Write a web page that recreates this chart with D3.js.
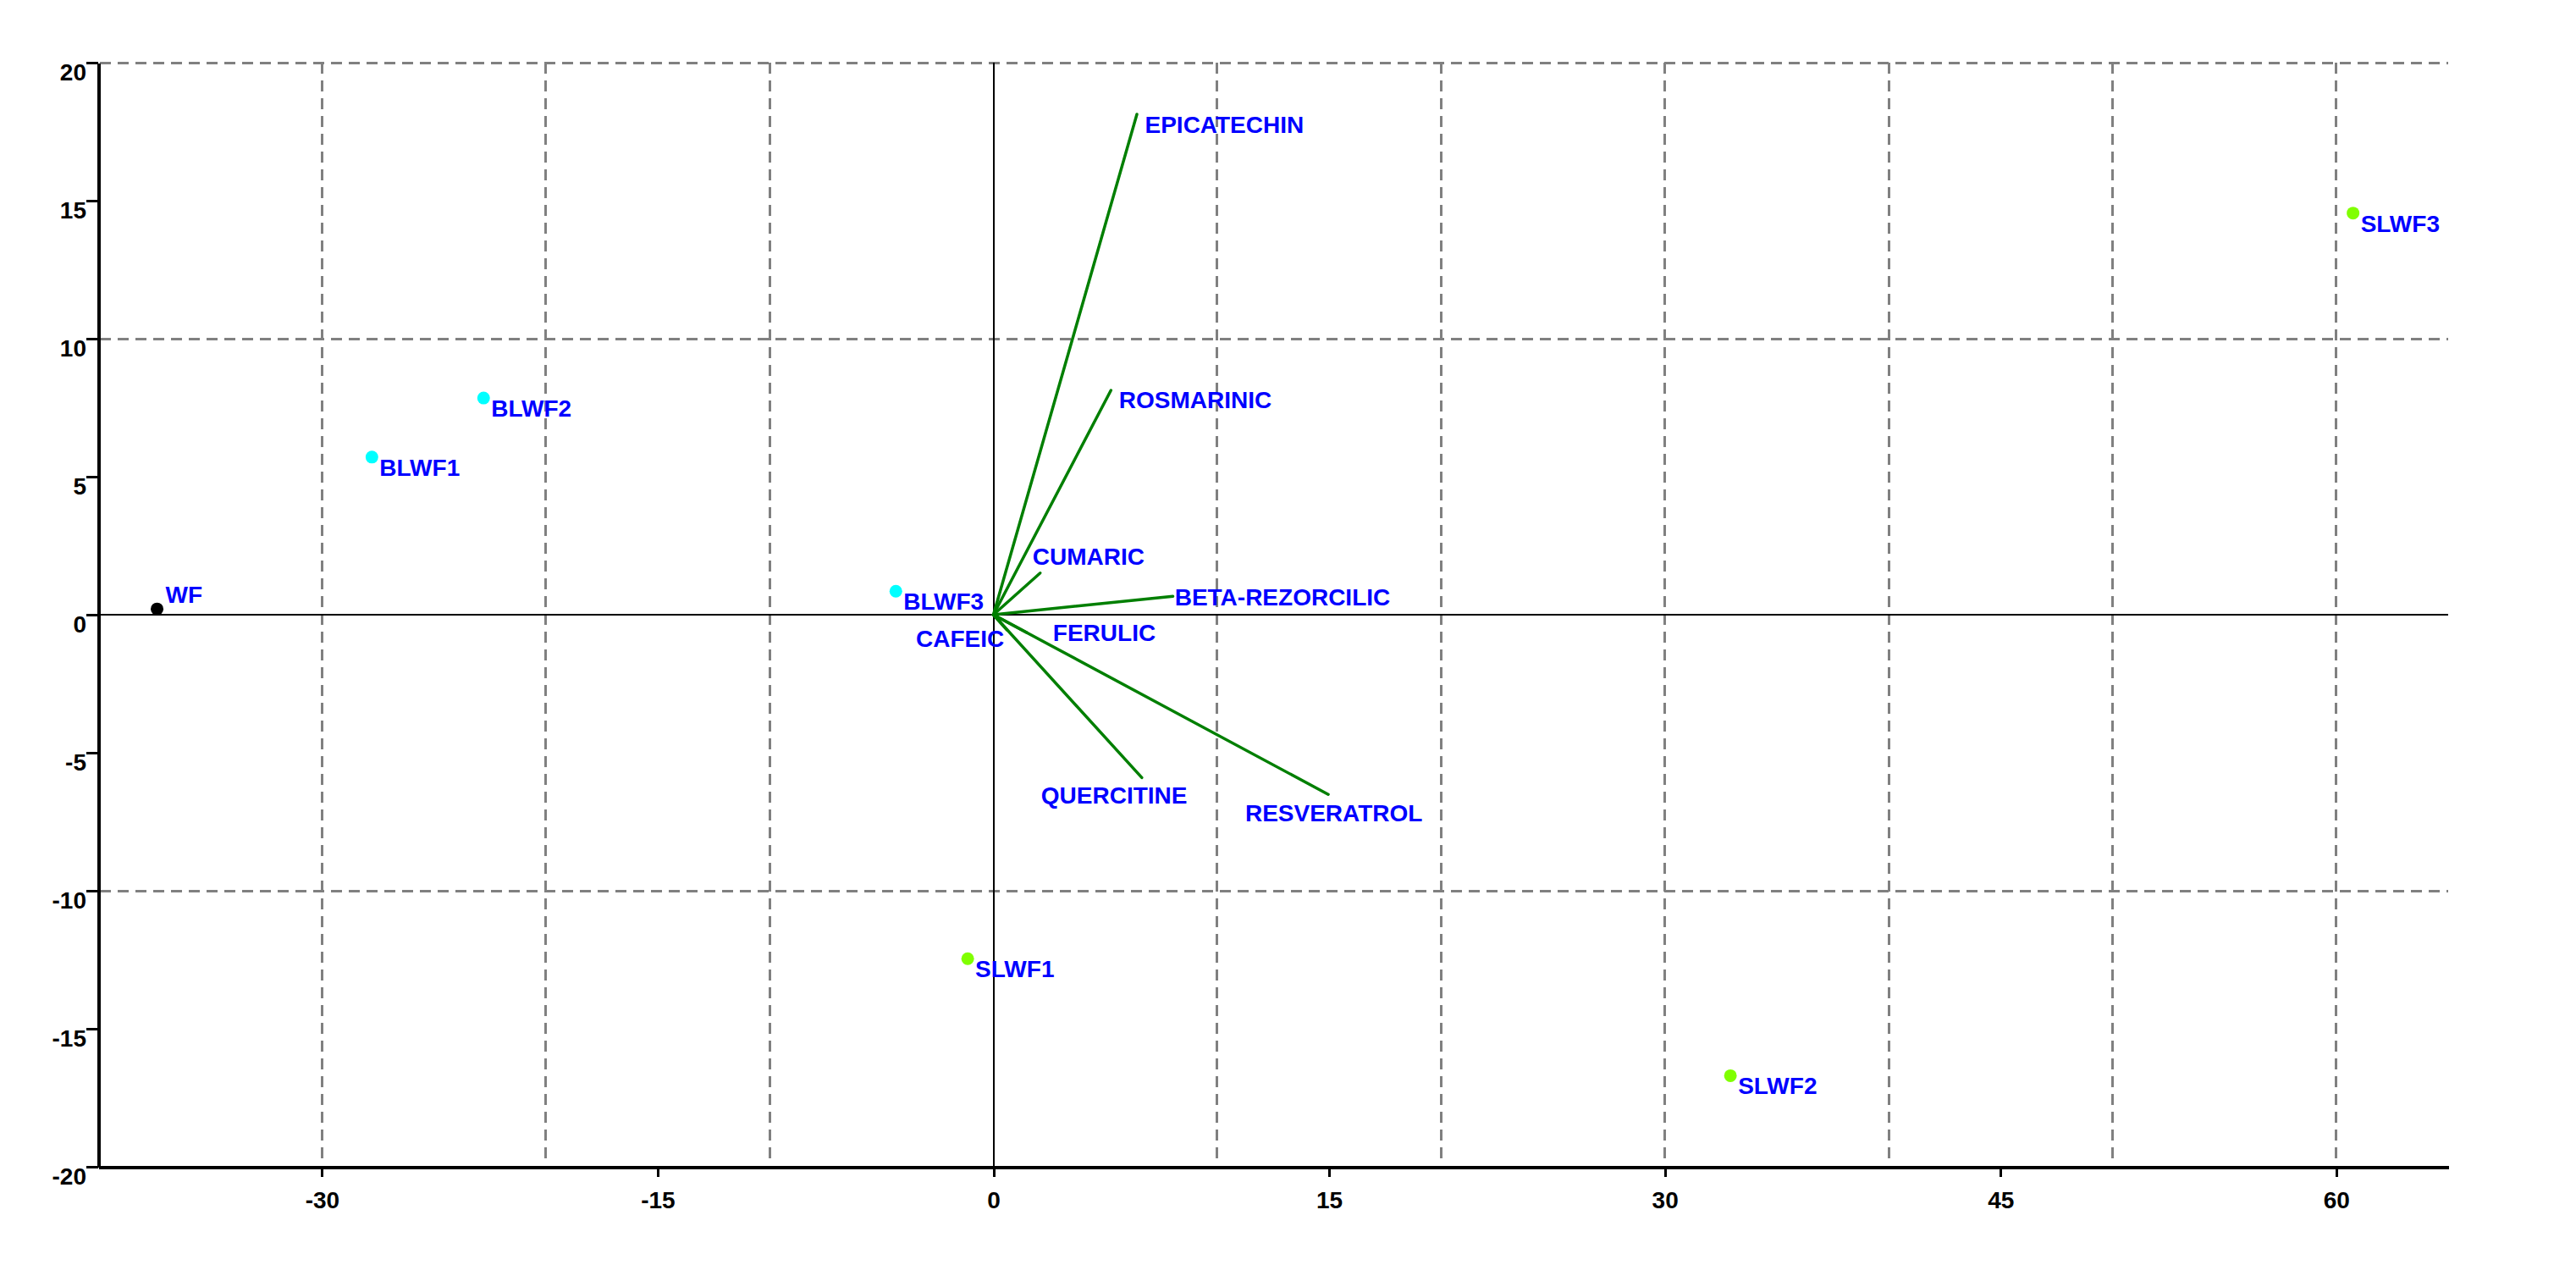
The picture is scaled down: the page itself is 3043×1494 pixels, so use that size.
<!DOCTYPE html>
<html>
<head>
<meta charset="utf-8">
<script src="https://cdn.jsdelivr.net/npm/d3@7"></script>
<style>
  html, body { margin: 0; padding: 0; background: #fff; }
  svg { display: block; }
  text { font-family: "Liberation Sans", Arial, sans-serif; font-weight: bold; }
</style>
</head>
<body>
<script>
// ---- Data ----
const sampleNames = ["WF", "BLWF1", "BLWF2", "BLWF3", "SLWF1", "SLWF2", "SLWF3"];
const sampleX = [-37.37, -27.77, -22.78, -4.36, -1.15, 32.93, 60.75];
const sampleY = [0.21, 5.71, 7.85, 0.85, -12.46, -16.70, 14.55];
const sampleGroup = ["WF", "BLWF", "BLWF", "BLWF", "SLWF", "SLWF", "SLWF"];
const sampleLabelSide = ["above", "below", "below", "below", "below", "below", "below"];

const vectorNames = ["EPICATECHIN", "ROSMARINIC", "CUMARIC", "BETA-REZORCILIC", "FERULIC", "CAFEIC", "QUERCITINE", "RESVERATROL"];
const vectorX = [6.41, 5.25, 2.09, 8.02, 1.5, 0.6, 6.63, 14.96];
const vectorY = [18.13, 8.13, 1.51, 0.67, -0.65, -0.55, -5.90, -6.51];
// label anchor (top-left of text) in data units
const vectorLabelX = [6.77, 5.61, 1.75, 8.10, 2.66, -3.46, 2.13, 11.25];
const vectorLabelY = [18.07, 8.10, 2.41, 0.95, -0.35, -0.56, -6.23, -6.87];

const xTicks = [-30, -15, 0, 15, 30, 45, 60];
const yTicks = [20, 15, 10, 5, 0, -5, -10, -15, -20];
const xGrid = [-30, -20, -10, 10, 20, 30, 40, 50, 60];
const yGrid = [20, 10, -10];

// ---- Styles ----
const W = 3043, H = 1494;
const groupColor = { WF: "#000000", BLWF: "#00FFFF", SLWF: "#80FF00" };
const labelColor = "#0000FF";
const vecColor = "#007F00";
const FS = 28;
const fmt = d => String(d);

const svg = d3.select("body").append("svg").attr("width", W).attr("height", H);

const x = d3.scaleLinear().domain([-40, 65]).range([116, 2892]);
const y = d3.scaleLinear().domain([-20, 20]).range([1378, 74]);

// grid
svg.append("g").selectAll("line").data(xGrid).join("line")
  .attr("x1", d => x(d)).attr("x2", d => x(d))
  .attr("y1", y(20)).attr("y2", y(-20) - 6)
  .attr("stroke", "#808080").attr("stroke-width", 3).attr("stroke-dasharray", "13,8")
  .attr("shape-rendering", "crispEdges");
svg.append("g").selectAll("line").data(yGrid).join("line")
  .attr("x1", x(-40) + 2).attr("x2", x(65))
  .attr("y1", d => y(d)).attr("y2", d => y(d))
  .attr("stroke", "#808080").attr("stroke-width", 3).attr("stroke-dasharray", "13,8")
  .attr("shape-rendering", "crispEdges");

// zero lines
svg.append("line").attr("x1", x(-40)).attr("x2", x(65)).attr("y1", y(0)).attr("y2", y(0))
  .attr("stroke", "#000").attr("stroke-width", 2).attr("shape-rendering", "crispEdges");
svg.append("line").attr("x1", x(0)).attr("x2", x(0)).attr("y1", y(20)).attr("y2", y(-20))
  .attr("stroke", "#000").attr("stroke-width", 2).attr("shape-rendering", "crispEdges");

// axes
const yAxis = svg.append("g").attr("transform", `translate(${x(-40)},0)`)
  .call(d3.axisLeft(y).tickValues(yTicks).tickSize(14).tickSizeOuter(0).tickPadding(0).tickFormat(fmt));
yAxis.select(".domain").attr("stroke", "#000").attr("stroke-width", 4).attr("shape-rendering", "crispEdges");
yAxis.selectAll(".tick line").attr("stroke", "#000").attr("stroke-width", 3).attr("shape-rendering", "crispEdges");
yAxis.selectAll(".tick text").attr("font-size", FS).attr("fill", "#000")
  .attr("dy", "0.72em").attr("x", -14)
  .style("font-family", "'Liberation Sans', Arial, sans-serif").style("font-weight", "bold");

const xAxis = svg.append("g").attr("transform", `translate(0,${y(-20)})`)
  .call(d3.axisBottom(x).tickValues(xTicks).tickSize(12).tickSizeOuter(0).tickPadding(17).tickFormat(fmt));
xAxis.select(".domain").attr("stroke", "#000").attr("stroke-width", 4).attr("shape-rendering", "crispEdges");
xAxis.selectAll(".tick line").attr("stroke", "#000").attr("stroke-width", 3).attr("shape-rendering", "crispEdges");
xAxis.selectAll(".tick text").attr("font-size", FS).attr("fill", "#000")
  .style("font-family", "'Liberation Sans', Arial, sans-serif").style("font-weight", "bold");

// vectors
const vectors = vectorNames.map((n, i) => ({ n, vx: vectorX[i], vy: vectorY[i], lx: vectorLabelX[i], ly: vectorLabelY[i] }));
svg.append("g").selectAll("line").data(vectors).join("line")
  .attr("x1", x(0)).attr("y1", y(0))
  .attr("x2", d => x(d.vx)).attr("y2", d => y(d.vy))
  .attr("stroke", vecColor).attr("stroke-width", 3.5).attr("stroke-linecap", "round");
svg.append("g").selectAll("text").data(vectors).join("text")
  .attr("x", d => x(d.lx)).attr("y", d => y(d.ly) + 20)
  .attr("font-size", FS).attr("fill", labelColor).text(d => d.n);

// samples
const samples = sampleNames.map((n, i) => ({ n, sx: sampleX[i], sy: sampleY[i], g: sampleGroup[i], side: sampleLabelSide[i] }));
svg.append("g").selectAll("circle").data(samples).join("circle")
  .attr("cx", d => x(d.sx)).attr("cy", d => y(d.sy)).attr("r", 7.5)
  .attr("fill", d => groupColor[d.g]);
svg.append("g").selectAll("text").data(samples).join("text")
  .attr("x", d => x(d.sx) + (d.side === "above" ? 10 : 9))
  .attr("y", d => y(d.sy) + (d.side === "above" ? -7 : 22))
  .attr("font-size", FS).attr("fill", labelColor).text(d => d.n);
</script>
</body>
</html>
